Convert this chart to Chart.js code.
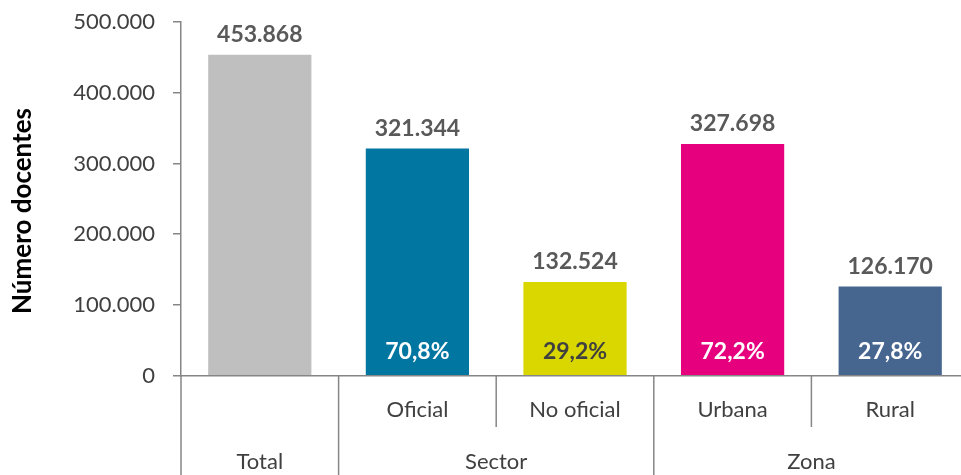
<!DOCTYPE html>
<html>
<head>
<meta charset="utf-8">
<script src="https://cdn.jsdelivr.net/npm/chart.js@4/dist/chart.umd.min.js"></script>
<style>
  html, body { margin: 0; padding: 0; background: #fff; overflow: hidden; }
  #wrap { width: 970px; height: 475px; position: relative; }
</style>
</head>
<body>
<div id="wrap"><canvas id="c"></canvas></div>
<script>
// ---- data ----
const categories = ['Total', 'Oficial', 'No oficial', 'Urbana', 'Rural'];
const subLabels = ['', 'Oficial', 'No oficial', 'Urbana', 'Rural'];
const groupLabels = ['Total', 'Sector', 'Zona'];
const groupSpans = [1, 2, 2];
const values = [453868, 321344, 132524, 327698, 126170];
const percentLabels = ['', '70,8%', '29,2%', '72,2%', '27,8%'];
const barColors = ['#BFBFBF', '#0076A0', '#DAD700', '#E6007E', '#466690'];
const percentColors = ['#FFFFFF', '#FFFFFF', '#404040', '#FFFFFF', '#FFFFFF'];
const yTicks = [0, 100000, 200000, 300000, 400000, 500000];
const yTitle = 'Número docentes';

const FONT = 'Lato, "Open Sans", sans-serif';
const AXIS = '#868686';

function fmt(v) {
  return String(v).replace(/\B(?=(\d{3})+(?!\d))/g, '.');
}

const labelsPlugin = {
  id: 'labelsPlugin',
  afterDraw(chart) {
    const ctx = chart.ctx;
    const x = chart.scales.x, y = chart.scales.y;
    const area = chart.chartArea;
    const meta = chart.getDatasetMeta(0);
    const H = chart.height;
    ctx.save();
    meta.data.forEach((bar, i) => {
      ctx.textAlign = 'center';
      ctx.textBaseline = 'middle';
      ctx.font = 'bold 23px ' + FONT;
      ctx.fillStyle = '#595959';
      ctx.fillText(fmt(values[i]), bar.x, bar.y - 20);
      if (percentLabels[i]) {
        ctx.fillStyle = percentColors[i];
        ctx.fillText(percentLabels[i], bar.x, y.getPixelForValue(0) - 24);
      }
    });
    ctx.strokeStyle = AXIS;
    ctx.lineWidth = 1.5;
    const base = y.getPixelForValue(0);
    const half = (x.getPixelForValue(1) - x.getPixelForValue(0)) / 2;
    ctx.beginPath();
    ctx.moveTo(area.left, base);
    ctx.lineTo(area.left, H);
    ctx.stroke();
    let idx = 0;
    groupSpans.forEach((span, g) => {
      const start = idx, end = idx + span - 1;
      const left = x.getPixelForValue(start) - half;
      const right = x.getPixelForValue(end) + half;
      ctx.font = '22px ' + FONT;
      ctx.fillStyle = '#404040';
      ctx.textAlign = 'center';
      ctx.textBaseline = 'middle';
      ctx.fillText(groupLabels[g], (left + right) / 2, 462);
      if (right < chart.width) {
        ctx.beginPath();
        ctx.moveTo(right, base);
        ctx.lineTo(right, H);
        ctx.stroke();
      }
      for (let i = start; i <= end; i++) {
        if (subLabels[i]) {
          ctx.fillText(subLabels[i], x.getPixelForValue(i), 410);
        }
        if (i < end) {
          const sx = x.getPixelForValue(i) + half;
          ctx.beginPath();
          ctx.moveTo(sx, base);
          ctx.lineTo(sx, 427);
          ctx.stroke();
        }
      }
      idx += span;
    });
    ctx.translate(23, 211);
    ctx.rotate(-Math.PI / 2);
    ctx.font = 'bold 26px ' + FONT;
    ctx.fillStyle = '#000000';
    ctx.textAlign = 'center';
    ctx.textBaseline = 'middle';
    ctx.fillText(yTitle, 0, 0);
    ctx.restore();
  }
};

new Chart(document.getElementById('c'), {
  type: 'bar',
  data: {
    labels: categories,
    datasets: [{
      data: values,
      backgroundColor: barColors,
      borderWidth: 0,
      categoryPercentage: 1,
      barPercentage: 0.655
    }]
  },
  options: {
    responsive: true,
    maintainAspectRatio: false,
    animation: false,
    layout: { padding: { top: 22, right: 1, left: 0, bottom: 0 } },
    plugins: { legend: { display: false }, tooltip: { enabled: false } },
    scales: {
      x: {
        grid: { display: false },
        border: { display: true, color: AXIS, width: 1.5 },
        ticks: { display: false },
        afterFit(scale) { scale.height = 99.3; }
      },
      y: {
        min: 0,
        max: 500000,
        afterBuildTicks(scale) { scale.ticks = yTicks.map(v => ({ value: v })); },
        afterFit(scale) {
          scale.width = 181;
          scale.paddingTop = 0;
          scale.paddingBottom = 0;
        },
        grid: { display: true, drawOnChartArea: false, drawTicks: true, tickLength: 8, color: AXIS, lineWidth: 1.5 },
        border: { display: true, color: AXIS, width: 1.5 },
        ticks: {
          padding: 18,
          color: '#404040',
          font: { family: FONT, size: 22 },
          callback: (v) => fmt(v)
        }
      }
    }
  },
  plugins: [labelsPlugin]
});
</script>
</body>
</html>
